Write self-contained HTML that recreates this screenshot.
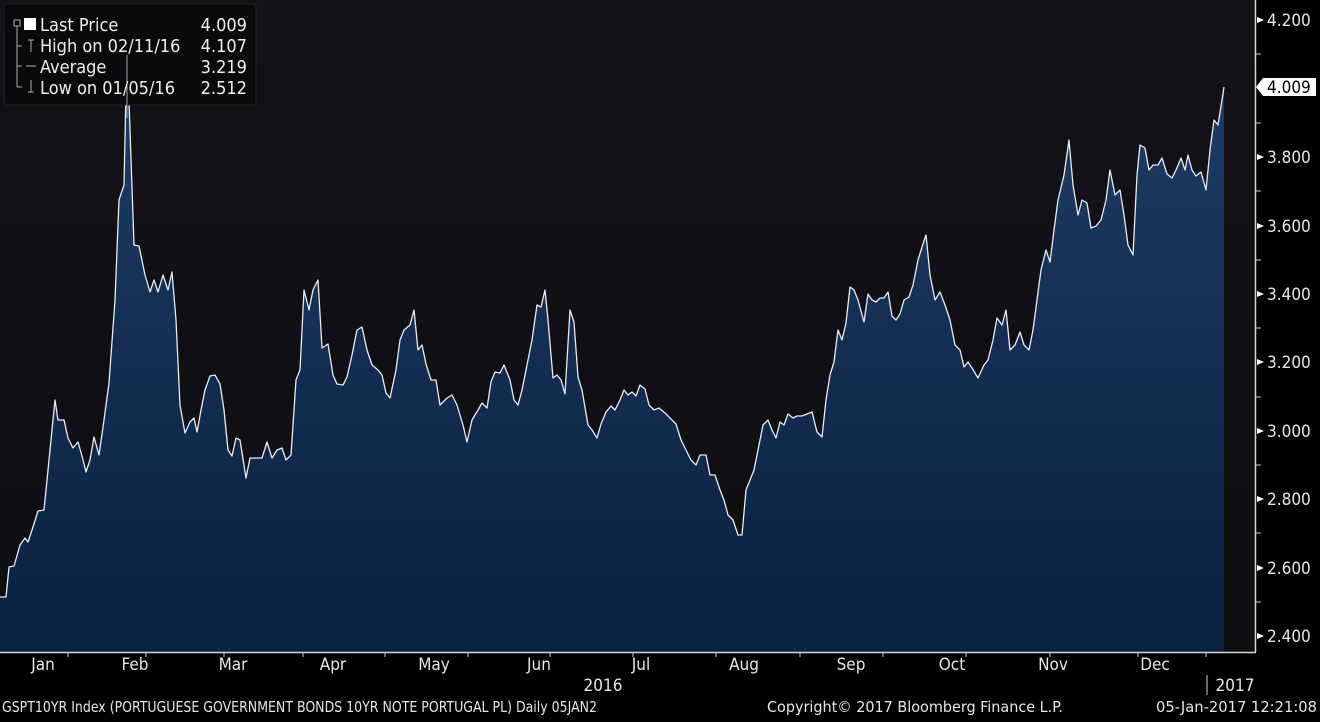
<!DOCTYPE html>
<html><head><meta charset="utf-8"><style>
html,body{margin:0;padding:0;background:#000;}
body{width:1320px;height:718px;overflow:hidden;font-family:"DejaVu Sans Condensed","Liberation Sans",sans-serif;}
text{font-family:"DejaVu Sans Condensed","Liberation Sans",sans-serif;}
</style></head><body>
<svg width="1320" height="718" xmlns="http://www.w3.org/2000/svg">
<defs>
<linearGradient id="bg" x1="0" y1="0" x2="0" y2="1"><stop offset="0" stop-color="#131216"/><stop offset="1" stop-color="#0e0e12"/></linearGradient>
<linearGradient id="fill" x1="0" y1="0" x2="0" y2="1"><stop offset="0" stop-color="#1f4068"/><stop offset="0.5" stop-color="#132e52"/><stop offset="1" stop-color="#0b2241"/></linearGradient>
</defs>
<rect x="0" y="0" width="1320" height="718" fill="#000"/>
<rect x="0" y="0" width="1255" height="652" fill="url(#bg)"/>
<polygon fill="url(#fill)" stroke="none" points="0,652 0,597 6,597 9,567 14,566 20,545 25,538 28,542 33,527 38,511 44,510 50,450 55,400 58,420 64,420 68,438 73,448 78,442 82,456 86,472 90,460 94,437 99,455 104,420 109,383 115,300 119,200 124,185 127,45 130,130 134,245 139,246 145,275 150,292 154,280 158,292 163,275 168,290 172,272 176,320 180,405 185,433 190,422 194,418 197,432 201,410 205,390 210,376 215,375 220,384 224,410 228,450 232,456 236,438 240,440 246,478 250,458 256,458 262,458 267,442 272,458 277,450 282,448 286,460 291,455 296,380 300,370 304,290 309,310 313,290 318,280 322,348 328,344 333,375 337,384 343,385 347,377 352,355 357,330 362,327 367,350 372,365 378,370 382,375 386,393 390,398 396,370 400,340 404,330 410,325 414,310 418,350 422,345 426,364 431,380 436,380 440,405 447,398 452,395 457,405 463,425 467,442 472,420 478,410 482,403 487,408 491,382 495,372 500,373 504,365 510,380 514,400 518,405 522,390 526,370 532,340 537,305 541,307 545,290 548,320 553,378 557,375 561,380 565,394 570,310 574,322 578,377 582,390 588,425 592,430 597,438 601,424 606,412 611,406 615,410 620,400 624,390 628,395 632,392 636,396 640,385 645,389 649,405 654,410 659,408 665,413 670,418 676,424 681,440 686,450 691,460 696,465 700,455 706,455 710,475 715,475 720,490 724,500 728,515 733,520 738,535 742,535 746,490 750,480 754,470 758,450 763,425 768,420 772,430 776,438 780,422 784,425 788,414 793,418 797,416 802,416 807,414 812,412 817,432 822,437 826,400 830,375 834,362 838,330 842,340 846,323 850,287 854,290 858,300 864,322 868,294 872,300 876,302 880,298 884,298 888,292 892,316 896,320 900,314 904,300 909,297 913,285 918,260 922,247 926,235 930,275 935,300 940,292 945,305 950,320 955,345 960,350 964,367 968,362 972,368 978,378 984,365 988,360 993,340 997,318 1002,325 1006,310 1010,350 1015,345 1020,332 1024,345 1029,350 1033,330 1037,300 1041,270 1046,250 1050,262 1054,230 1058,200 1064,175 1069,140 1073,185 1078,215 1082,200 1087,203 1091,228 1096,226 1101,220 1106,200 1110,170 1115,195 1120,190 1124,215 1128,245 1133,255 1137,175 1140,145 1145,148 1149,170 1153,165 1158,165 1162,158 1167,174 1172,178 1176,170 1181,158 1185,170 1188,155 1192,170 1196,176 1201,172 1206,190 1210,150 1214,120 1218,125 1224,87 1224,652"/>
<polyline fill="none" stroke="#e8ecf2" stroke-width="1.3" stroke-linejoin="round" points="0,597 6,597 9,567 14,566 20,545 25,538 28,542 33,527 38,511 44,510 50,450 55,400 58,420 64,420 68,438 73,448 78,442 82,456 86,472 90,460 94,437 99,455 104,420 109,383 115,300 119,200 124,185 127,45 130,130 134,245 139,246 145,275 150,292 154,280 158,292 163,275 168,290 172,272 176,320 180,405 185,433 190,422 194,418 197,432 201,410 205,390 210,376 215,375 220,384 224,410 228,450 232,456 236,438 240,440 246,478 250,458 256,458 262,458 267,442 272,458 277,450 282,448 286,460 291,455 296,380 300,370 304,290 309,310 313,290 318,280 322,348 328,344 333,375 337,384 343,385 347,377 352,355 357,330 362,327 367,350 372,365 378,370 382,375 386,393 390,398 396,370 400,340 404,330 410,325 414,310 418,350 422,345 426,364 431,380 436,380 440,405 447,398 452,395 457,405 463,425 467,442 472,420 478,410 482,403 487,408 491,382 495,372 500,373 504,365 510,380 514,400 518,405 522,390 526,370 532,340 537,305 541,307 545,290 548,320 553,378 557,375 561,380 565,394 570,310 574,322 578,377 582,390 588,425 592,430 597,438 601,424 606,412 611,406 615,410 620,400 624,390 628,395 632,392 636,396 640,385 645,389 649,405 654,410 659,408 665,413 670,418 676,424 681,440 686,450 691,460 696,465 700,455 706,455 710,475 715,475 720,490 724,500 728,515 733,520 738,535 742,535 746,490 750,480 754,470 758,450 763,425 768,420 772,430 776,438 780,422 784,425 788,414 793,418 797,416 802,416 807,414 812,412 817,432 822,437 826,400 830,375 834,362 838,330 842,340 846,323 850,287 854,290 858,300 864,322 868,294 872,300 876,302 880,298 884,298 888,292 892,316 896,320 900,314 904,300 909,297 913,285 918,260 922,247 926,235 930,275 935,300 940,292 945,305 950,320 955,345 960,350 964,367 968,362 972,368 978,378 984,365 988,360 993,340 997,318 1002,325 1006,310 1010,350 1015,345 1020,332 1024,345 1029,350 1033,330 1037,300 1041,270 1046,250 1050,262 1054,230 1058,200 1064,175 1069,140 1073,185 1078,215 1082,200 1087,203 1091,228 1096,226 1101,220 1106,200 1110,170 1115,195 1120,190 1124,215 1128,245 1133,255 1137,175 1140,145 1145,148 1149,170 1153,165 1158,165 1162,158 1167,174 1172,178 1176,170 1181,158 1185,170 1188,155 1192,170 1196,176 1201,172 1206,190 1210,150 1214,120 1218,125 1224,87"/>
<line x1="1255.5" y1="0" x2="1255.5" y2="652" stroke="#d8d8d8" stroke-width="1.5"/>
<line x1="0" y1="652.5" x2="1256" y2="652.5" stroke="#d8d8d8" stroke-width="1.5"/>
<g fill="#fff">
<polygon points="1257,17 1264,20 1257,23"/><polygon points="1257,154 1264,157 1257,160"/><polygon points="1257,291 1264,294 1257,297"/><polygon points="1257,428 1264,431 1257,434"/><polygon points="1257,565 1264,568 1257,571"/>
<polygon points="1257,223 1264,226 1257,229"/><polygon points="1257,359 1264,362 1257,365"/><polygon points="1257,496 1264,499 1257,502"/><polygon points="1257,633 1264,636 1257,639"/>
</g>
<g stroke="#ccc" stroke-width="1">
<line x1="1256" y1="54" x2="1261" y2="54"/><line x1="1256" y1="123" x2="1261" y2="123"/><line x1="1256" y1="191" x2="1261" y2="191"/><line x1="1256" y1="260" x2="1261" y2="260"/><line x1="1256" y1="328" x2="1261" y2="328"/><line x1="1256" y1="397" x2="1261" y2="397"/><line x1="1256" y1="465" x2="1261" y2="465"/><line x1="1256" y1="533" x2="1261" y2="533"/><line x1="1256" y1="602" x2="1261" y2="602"/>
</g>
<g fill="#e6e6e6" font-size="17">
<text x="1267" y="26">4.200</text><text x="1267" y="163">3.800</text><text x="1267" y="232">3.600</text><text x="1267" y="300">3.400</text><text x="1267" y="368">3.200</text><text x="1267" y="437">3.000</text><text x="1267" y="505">2.800</text><text x="1267" y="574">2.600</text><text x="1267" y="642">2.400</text>
</g>
<polygon points="1256,87 1263,78 1316,78 1316,96 1263,96" fill="#fff"/>
<text x="1267" y="93" fill="#000" font-size="17">4.009</text>
<g stroke="#ccc" stroke-width="1">
<line x1="68" y1="652" x2="68" y2="657"/><line x1="146" y1="652" x2="146" y2="657"/><line x1="224" y1="652" x2="224" y2="657"/><line x1="303" y1="652" x2="303" y2="657"/><line x1="385" y1="652" x2="385" y2="657"/><line x1="468" y1="652" x2="468" y2="657"/><line x1="550" y1="652" x2="550" y2="657"/><line x1="633" y1="652" x2="633" y2="657"/><line x1="716" y1="652" x2="716" y2="657"/><line x1="800" y1="652" x2="800" y2="657"/><line x1="883" y1="652" x2="883" y2="657"/><line x1="966" y1="652" x2="966" y2="657"/><line x1="1050" y1="652" x2="1050" y2="657"/><line x1="1138" y1="652" x2="1138" y2="657"/><line x1="1206" y1="652" x2="1206" y2="657"/>
<line x1="1207" y1="675" x2="1207" y2="695"/>
</g>
<g fill="#e6e6e6" font-size="17" text-anchor="middle">
<text x="43" y="670">Jan</text><text x="135" y="670">Feb</text><text x="233" y="670">Mar</text><text x="333" y="670">Apr</text><text x="434" y="670">May</text><text x="539" y="670">Jun</text><text x="641" y="670">Jul</text><text x="744" y="670">Aug</text><text x="851" y="670">Sep</text><text x="952" y="670">Oct</text><text x="1053" y="670">Nov</text><text x="1155" y="670">Dec</text>
<text x="603" y="691">2016</text><text x="1235" y="691">2017</text>
</g>
<g fill="#e6e6e6" font-size="15">
<text x="2" y="712" textLength="595" lengthAdjust="spacingAndGlyphs">GSPT10YR Index (PORTUGUESE GOVERNMENT BONDS 10YR NOTE PORTUGAL PL)  Daily 05JAN2</text>
<text x="767" y="712" textLength="296" lengthAdjust="spacingAndGlyphs">Copyright© 2017 Bloomberg Finance L.P.</text>
<text x="1156" y="712" textLength="161" lengthAdjust="spacingAndGlyphs">05-Jan-2017 12:21:08</text>
</g>
<rect x="4" y="4" width="252" height="101" rx="3" fill="#0a0a0d" stroke="#222" stroke-width="1"/>
<line x1="127" y1="55" x2="127" y2="118" stroke="#9aa" stroke-width="1"/>
<g stroke="#aaa" stroke-width="1" fill="none">
<rect x="14" y="20" width="6" height="6"/>
<line x1="17" y1="26" x2="17" y2="87"/><line x1="17" y1="46" x2="22" y2="46"/><line x1="17" y1="66" x2="22" y2="66"/><line x1="17" y1="87" x2="22" y2="87"/>
<line x1="31" y1="40" x2="31" y2="52"/><line x1="28" y1="40" x2="34" y2="40"/>
<line x1="26" y1="66" x2="36" y2="66"/>
<line x1="31" y1="80" x2="31" y2="92"/><line x1="28" y1="92" x2="34" y2="92"/>
</g>
<rect x="24" y="18" width="12" height="12" fill="#fff"/>
<g fill="#eee" font-size="18">
<text x="40" y="31">Last Price</text><text x="247" y="31" text-anchor="end">4.009</text>
<text x="40" y="52">High on 02/11/16</text><text x="247" y="52" text-anchor="end">4.107</text>
<text x="40" y="73">Average</text><text x="247" y="73" text-anchor="end">3.219</text>
<text x="40" y="94">Low on 01/05/16</text><text x="247" y="94" text-anchor="end">2.512</text>
</g>
</svg>
</body></html>
